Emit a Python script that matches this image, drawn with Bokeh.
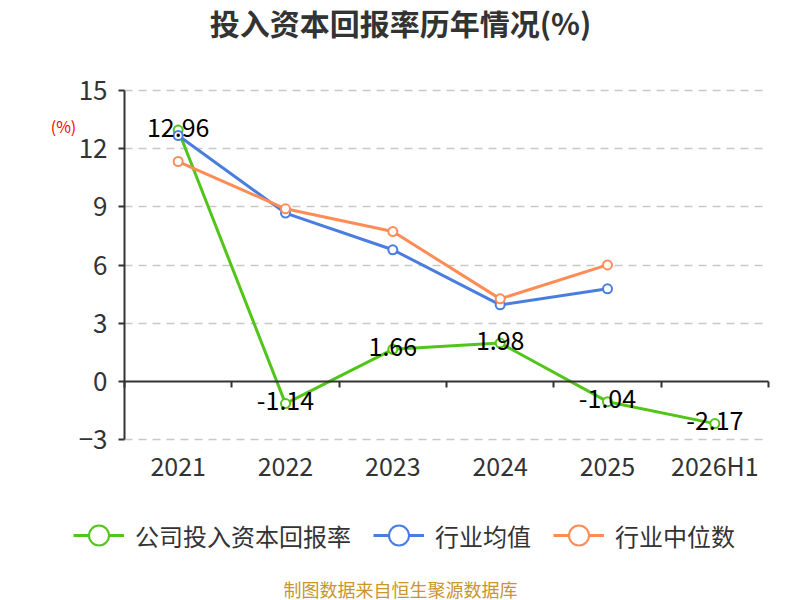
from bokeh.plotting import figure
from bokeh.models import (Range1d, FixedTicker, LinearAxis, Legend, LegendItem,
                          Label, LabelSet, ColumnDataSource, Grid)
from bokeh.embed import file_html
from bokeh.resources import INLINE
from bokeh.core.properties import value

categories = ["2021", "2022", "2023", "2024", "2025", "2026H1"]
company = [12.96, -1.14, 1.66, 1.98, -1.04, -2.17]
ind_mean = [12.68, 8.68, 6.79, 3.95, 4.78]
ind_median = [11.34, 8.90, 7.73, 4.26, 6.01]
y_ticks = [-3, 0, 3, 6, 9, 12, 15]

GREEN = "#52c41a"
BLUE = "#4a7de0"
ORANGE = "#ff8c55"
FONT = "Noto Sans CJK SC"

# ---- page geometry (pixels) ----
W, H = 800, 600
FL, FT = 40, 10                 # frame left / top (canvas px)
AX_L, AX_R = 124, 768           # plot area left/right px
AX_T, AX_B = 90, 439.2          # plot area top/bottom px
Y_MIN, Y_MAX = y_ticks[0], y_ticks[-1]
N = len(categories)
ppx = (AX_R - AX_L) / N
ppy = (AX_B - AX_T) / (Y_MAX - Y_MIN)


def px_x(px):
    return (px - AX_L) / ppx


def px_y(py):
    return Y_MAX - (py - AX_T) / ppy


xs = [i + 0.5 for i in range(N)]
boundaries = list(range(N + 1))

p = figure(width=W, height=H, output_backend="svg", toolbar_location=None,
           x_range=Range1d(px_x(FL), px_x(W)), y_range=Range1d(px_y(H), px_y(FT)),
           x_axis_type=None, y_axis_type=None,
           min_border_left=FL, min_border_right=0, min_border_top=FT,
           min_border_bottom=0)
p.outline_line_color = None
p.background_fill_color = "white"
p.border_fill_color = "white"

# grid lines
gticks = [t for t in y_ticks if t != 0]
if "cross_bounds" in Grid.properties():
    grid = Grid(dimension=1, ticker=FixedTicker(ticks=gticks), bounds=(Y_MIN, Y_MAX),
                cross_bounds=(0, N))
    grid.grid_line_color = "#c8c8c8"
    grid.grid_line_dash = "8 6"
    grid.grid_line_width = 1.5
    p.add_layout(grid)
else:
    p.segment(x0=[0] * len(gticks), x1=[N] * len(gticks), y0=gticks, y1=gticks,
              line_color="#c8c8c8", line_dash="8 6", line_width=1.5)

# y axis at x = 0
yax = LinearAxis(ticker=FixedTicker(ticks=y_ticks), fixed_location=0, bounds=(Y_MIN, Y_MAX))
yax.axis_line_color = "#333333"
yax.axis_line_width = 2
yax.major_tick_line_color = "#333333"
yax.major_tick_line_width = 2
yax.major_tick_out = 6
yax.major_tick_in = 0
yax.minor_tick_line_color = None
yax.major_label_text_font = FONT
yax.major_label_text_font_size = "26px"
yax.major_label_text_color = "#333333"
yax.major_label_standoff = 11
p.add_layout(yax, "left")

# x axis line at y = 0 with boundary ticks pointing down
xzero = LinearAxis(ticker=FixedTicker(ticks=boundaries), fixed_location=0, bounds=(0, N))
xzero.axis_line_color = "#333333"
xzero.axis_line_width = 2
xzero.major_tick_line_color = "#333333"
xzero.major_tick_line_width = 2
xzero.major_tick_out = 0
xzero.major_tick_in = 6
xzero.minor_tick_line_color = None
xzero.major_label_text_alpha = 0
xzero.major_label_text_font_size = "1px"
xzero.major_label_standoff = 0
p.add_layout(xzero, "above")

# category labels below the plot area
cat_src = ColumnDataSource(dict(x=xs, y=[Y_MIN] * N, t=categories))
cat_labels = LabelSet(x="x", y="y", text="t", source=cat_src, y_offset=-36,
                      text_align="center", text_baseline="alphabetic",
                      text_font=value(FONT), text_font_size="25px", text_color="#333333")
p.add_layout(cat_labels)

src_c = ColumnDataSource(dict(x=xs, y=company, t=["%.2f" % v for v in company]))
src_m = ColumnDataSource(dict(x=xs[:len(ind_mean)], y=ind_mean))
src_d = ColumnDataSource(dict(x=xs[:len(ind_median)], y=ind_median))

lc = p.line("x", "y", source=src_c, color=GREEN, line_width=3)
sc = p.scatter("x", "y", source=src_c, size=9, line_color=GREEN, fill_color="white", line_width=2)
lm = p.line("x", "y", source=src_m, color=BLUE, line_width=3)
sm = p.scatter("x", "y", source=src_m, size=9, line_color=BLUE, fill_color="white", line_width=2)
ld = p.line("x", "y", source=src_d, color=ORANGE, line_width=3)
sd = p.scatter("x", "y", source=src_d, size=9, line_color=ORANGE, fill_color="white", line_width=2)

labels = LabelSet(x="x", y="y", text="t", source=src_c, y_offset=3, text_align="center",
                  text_baseline="middle", text_font=value(FONT),
                  text_font_size="25px", text_color="#000000")
p.add_layout(labels)

LEG_H = 50
legend = Legend(items=[
    LegendItem(label="公司投入资本回报率", renderers=[lc, sc]),
    LegendItem(label="行业均值", renderers=[lm, sm]),
    LegendItem(label="行业中位数", renderers=[ld, sd]),
], orientation="horizontal", location=(73 - FL, H - 510 - LEG_H))
legend.label_text_font = FONT
legend.label_text_font_size = "24px"
legend.label_text_color = "#333333"
legend.glyph_width = 51
legend.glyph_height = LEG_H
legend.label_height = LEG_H
legend.label_standoff = 11
legend.spacing = 22
legend.padding = 0
legend.margin = 0
legend.border_line_color = None
legend.background_fill_alpha = 0
p.add_layout(legend, "center")

title = Label(x=px_x(400), y=px_y(21), text="投入资本回报率历年情况(%)", text_align="center",
              text_baseline="middle", text_font=FONT, text_font_size="30px",
              text_font_style="bold", text_color="#333333")
p.add_layout(title)

unit = Label(x=px_x(63), y=px_y(125), text="(%)", text_align="center", text_baseline="middle",
             text_font=FONT, text_font_size="16px", text_color="#ff0000")
p.add_layout(unit)

source_note = Label(x=px_x(400), y=px_y(588), text="制图数据来自恒生聚源数据库",
                    text_align="center", text_baseline="middle", text_font=FONT,
                    text_font_size="18px", text_color="#c9952c")
p.add_layout(source_note)

open("out.html", "w").write(file_html(p, INLINE))
